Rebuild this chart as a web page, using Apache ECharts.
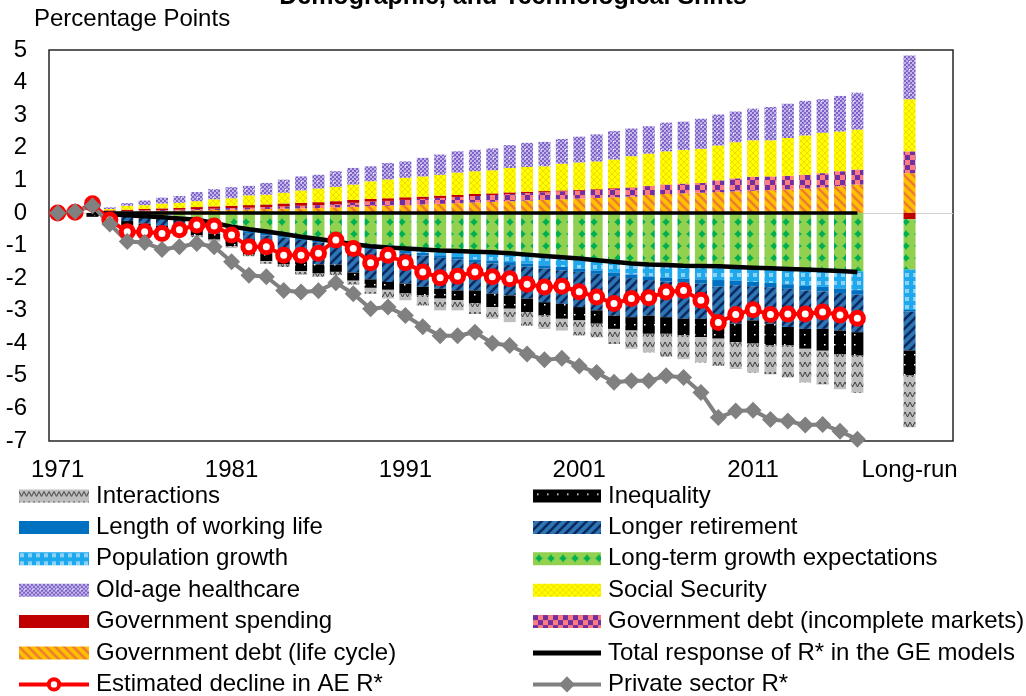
<!DOCTYPE html>
<html>
<head>
<meta charset="utf-8">
<script src="https://cdn.jsdelivr.net/npm/echarts@6.0.0/dist/echarts.min.js"></script>
<style>
  html, body { margin: 0; padding: 0; background: #fff; }
  #chartArea { width: 1026px; height: 696px; }
</style>
</head>
<body>
<div id="chartArea"></div>
<script>
// categories: 1971-2017, two empty slots, Long-run, two empty slots
let years = [];
for (let y = 1971; y <= 2017; y++) years.push(String(y));
const categories = years.concat(['gapA', 'gapB', 'Long-run', 'gapC', 'gapD']);
const shownLabels = ['1971', '1981', '1991', '2001', '2011', 'Long-run'];

// stacked components, 1971..2017 (percentage points)
const govDebtLC = [0, 0, 0,
  .03, .04, .05, .06, .07, .08, .09, .10, .11, .12,
  .13, .14, .15, .17, .19, .21, .22, .24, .26, .28,
  .30, .32, .34, .36, .38, .40, .42, .44, .46, .48,
  .50, .55, .58, .60, .62, .64, .66, .68, .70, .72,
  .75, .78, .82, .87];
const govDebtIM = [0, 0, 0,
  .02, .02, .03, .03, .03, .04, .04, .05, .05, .06,
  .07, .08, .09, .10, .12, .14, .15, .16, .17, .18,
  .19, .20, .21, .22, .23, .23, .24, .24, .25, .26,
  .26, .27, .28, .29, .30, .36, .40, .43, .42, .42,
  .42, .44, .46, .46];
const govSpending = [0, 0, 0,
  .03, .04, .04, .05, .05, .06, .07, .07, .08, .08,
  .09, .09, .09, .09, .09, .08, .08, .08, .07, .07,
  .06, .06, .05, .05, .04, .04, .03, .03, .02, .02,
  .02, .01, .01, .01, 0, 0, 0, 0, 0, 0,
  0, 0, 0, 0];
const socialSecurity = [0, 0, 0,
  .04, .12, .12, .15, .16, .18, .22, .23, .30, .30,
  .33, .38, .42, .44, .47, .54, .58, .60, .62, .64,
  .69, .70, .71, .75, .76, .76, .82, .84, .85, .88,
  .96, .99, 1.02, 1.03, 1.05, 1.07, 1.11, 1.12, 1.11, 1.16,
  1.21, 1.24, 1.22, 1.23];
const oldAgeHealth = [0, 0, 0,
  .05, .08, .14, .18, .21, .28, .31, .34, .29, .36,
  .40, .43, .42, .48, .51, .46, .50, .50, .57, .62,
  .65, .66, .67, .70, .74, .75, .76, .79, .83, .87,
  .85, .84, .88, .87, .92, .95, .94, .97, 1.02, 1.05,
  1.06, 1.03, 1.09, 1.13];
const growthExp = [0, 0, 0,
  -.03, -.05, -.07, -.10, -.13, -.17, -.30, -.45, -.52, -.58,
  -.64, -.70, -.76, -.83, -.90, -.95, -1.00, -1.04, -1.08, -1.12,
  -1.15, -1.18, -1.20, -1.24, -1.28, -1.32, -1.36, -1.40, -1.45, -1.50,
  -1.55, -1.60, -1.62, -1.64, -1.65, -1.66, -1.67, -1.69, -1.70, -1.72,
  -1.74, -1.75, -1.77, -1.79];
const popGrowth = [0, 0, 0,
  -.01, -.02, -.02, -.03, -.03, -.03, -.03, -.03, -.04, -.04,
  -.05, -.05, -.06, -.06, -.07, -.08, -.10, -.12, -.15, -.18,
  -.20, -.25, -.26, -.27, -.28, -.29, -.30, -.31, -.32, -.33,
  -.34, -.35, -.37, -.38, -.39, -.40, -.41, -.43, -.45, -.47,
  -.50, -.52, -.55, -.58];
const workingLife = [0, 0, 0,
  -.02, -.03, -.04, -.05, -.05, -.05, -.06, -.06, -.06, -.07,
  -.07, -.08, -.08, -.08, -.08, -.08, -.08, -.08, -.08, -.08,
  -.08, -.08, -.09, -.09, -.09, -.10, -.10, -.10, -.10, -.11,
  -.11, -.11, -.12, -.12, -.13, -.20, -.14, -.13, -.13, -.14,
  -.14, -.14, -.14, -.14];
const longerRetire = [0, 0, 0,
  -.08, -.15, -.20, -.22, -.24, -.26, -.25, -.28, -.42, -.55,
  -.56, -.68, -.68, -.62, -.78, -.93, -.94, -.93, -.96, -.95,
  -.95, -.87, -.93, -.93, -.98, -1.03, -1.03, -1.08, -1.12, -1.21,
  -1.20, -1.09, -1.09, -1.11, -1.08, -1.25, -1.18, -1.05, -1.12, -1.17,
  -1.18, -1.15, -1.15, -1.15];
const inequality = [0, 0, -.12,
  -.08, -.12, -.15, -.17, -.18, -.18, -.18, -.20, -.22, -.24,
  -.26, -.28, -.28, -.22, -.25, -.26, -.24, -.30, -.26, -.30,
  -.30, -.39, -.41, -.41, -.41, -.41, -.46, -.41, -.41, -.41,
  -.41, -.56, -.51, -.51, -.56, -.35, -.57, -.71, -.67, -.57,
  -.61, -.67, -.72, -.72];
const interactions = [0, 0, 0,
  -.02, -.03, -.04, -.05, -.05, -.06, -.06, -.06, -.07, -.08,
  -.08, -.10, -.10, -.10, -.12, -.18, -.27, -.21, -.31, -.36,
  -.31, -.33, -.36, -.41, -.42, -.41, -.36, -.46, -.42, -.46,
  -.56, -.57, -.70, -.73, -.78, -.83, -.82, -.89, -.88, -.98,
  -1.03, -1.03, -1.08, -1.14];

// long-run bar
const longRun = {
  govDebtLC: 1.22, govDebtIM: .67, govSpending: -.19, socialSecurity: 1.60, oldAgeHealth: 1.34,
  growthExp: -1.55, popGrowth: -1.24, workingLife: -.05, longerRetire: -1.19,
  inequality: -.77, interactions: -1.59
};

// lines, 1971..2017
const totalGE = ['-', '-', 0,
  -.04, -.07, -.10, -.13, -.17, -.21, -.31, -.42, -.50, -.57,
  -.65, -.73, -.80, -.88, -.96, -1.02, -1.06, -1.09, -1.12, -1.15,
  -1.17, -1.19, -1.21, -1.24, -1.28, -1.32, -1.36, -1.40, -1.45, -1.50,
  -1.55, -1.58, -1.60, -1.62, -1.63, -1.64, -1.66, -1.68, -1.70, -1.72,
  -1.74, -1.76, -1.78, -1.81];
const estDecline = [0, .02, .28,
  -.22, -.58, -.58, -.63, -.52, -.37, -.40, -.68, -1.04, -1.04,
  -1.30, -1.30, -1.24, -.83, -1.09, -1.53, -1.30, -1.53, -1.81, -1.99,
  -1.94, -1.81, -1.96, -2.02, -2.19, -2.27, -2.25, -2.42, -2.58, -2.78,
  -2.63, -2.60, -2.43, -2.38, -2.68, -3.36, -3.12, -2.97, -3.12, -3.10,
  -3.10, -3.04, -3.13, -3.23];
const privateRstar = [0, .04, .22,
  -.34, -.88, -.91, -1.12, -1.04, -.94, -1.04, -1.50, -1.91, -1.96,
  -2.38, -2.43, -2.39, -2.14, -2.48, -2.94, -2.89, -3.15, -3.49, -3.77,
  -3.77, -3.66, -4.00, -4.07, -4.33, -4.51, -4.46, -4.70, -4.90, -5.20,
  -5.15, -5.15, -5.00, -5.05, -5.51, -6.28, -6.08, -6.06, -6.34, -6.39,
  -6.51, -6.49, -6.70, -6.95];
const zeroLine = ['-', '-', 0,
  0, 0, 0, 0, 0, 0, 0, 0, 0, 0,
  0, 0, 0, 0, 0, 0, 0, 0, 0, 0,
  0, 0, 0, 0, 0, 0, 0, 0, 0, 0,
  0, 0, 0, 0, 0, 0, 0, 0, 0, 0,
  0, 0, 0, 0];

function withLongRun(arr, lr) {
  return arr.concat([null, null, lr, null, null]);
}
function lineData(arr) {
  return arr.concat([null, null, null, null, null]);
}

// fill patterns
function makePattern(size, bg, draw) {
  let c = document.createElement('canvas');
  c.width = size; c.height = size;
  let ctx = c.getContext('2d');
  ctx.fillStyle = bg;
  ctx.fillRect(0, 0, size, size);
  if (draw) draw(ctx, size);
  return { image: c, repeat: 'repeat' };
}
function slash(ctx, s, color, w) {
  ctx.strokeStyle = color; ctx.lineWidth = w;
  ctx.beginPath();
  ctx.moveTo(-1, s + 1); ctx.lineTo(s + 1, -1);
  ctx.moveTo(-s / 2 - 1, s / 2 + 1); ctx.lineTo(s / 2 + 1, -s / 2 - 1);
  ctx.moveTo(s / 2 - 1, s * 1.5 + 1); ctx.lineTo(s * 1.5 + 1, s / 2 - 1);
  ctx.stroke();
}
function backslash(ctx, s, color, w) {
  ctx.strokeStyle = color; ctx.lineWidth = w;
  ctx.beginPath();
  ctx.moveTo(-1, -1); ctx.lineTo(s + 1, s + 1);
  ctx.moveTo(-s / 2 - 1, s / 2 - 1); ctx.lineTo(s / 2 + 1, s * 1.5 + 1);
  ctx.moveTo(s / 2 - 1, -s / 2 - 1); ctx.lineTo(s * 1.5 + 1, s / 2 + 1);
  ctx.stroke();
}

const pInteractions = makePattern(10, '#BFBFBF', function (ctx) {
  ctx.strokeStyle = '#3A3A3A'; ctx.lineWidth = 1;
  ctx.beginPath();
  ctx.moveTo(0, 2); ctx.lineTo(2.5, 7); ctx.lineTo(5, 2); ctx.lineTo(7.5, 7); ctx.lineTo(10, 2);
  ctx.stroke();
});
const pInequality = makePattern(10, '#000000', function (ctx) {
  ctx.fillStyle = '#FFFFFF'; ctx.fillRect(4, 4, 1.5, 1.5);
});
const pRetire = makePattern(9, '#2E75B6', function (ctx, s) { slash(ctx, s, '#0B2A5E', 2.6); });
const pPop = makePattern(8, '#1FA9EC', function (ctx) {
  ctx.fillStyle = '#8ED2F7'; ctx.fillRect(1, 1, 4, 4);
});
const pGrowth = makePattern(12, '#92D050', function (ctx) {
  ctx.fillStyle = '#00B050';
  ctx.beginPath();
  ctx.moveTo(6, 1); ctx.quadraticCurveTo(6, 6, 11, 6); ctx.quadraticCurveTo(6, 6, 6, 11);
  ctx.quadraticCurveTo(6, 6, 1, 6); ctx.quadraticCurveTo(6, 6, 6, 1);
  ctx.closePath(); ctx.fill();
  ctx.beginPath();
  ctx.moveTo(6, 2.5); ctx.lineTo(9.5, 6); ctx.lineTo(6, 9.5); ctx.lineTo(2.5, 6); ctx.closePath();
  ctx.fill();
});
const pOldAge = makePattern(8, '#C3B5EC', function (ctx) {
  ctx.fillStyle = '#7E63C6';
  ctx.fillRect(0, 0, 2, 2); ctx.fillRect(2, 2, 2, 2); ctx.fillRect(4, 0, 2, 2); ctx.fillRect(6, 2, 2, 2);
  ctx.fillRect(0, 4, 2, 2); ctx.fillRect(2, 6, 2, 2); ctx.fillRect(4, 4, 2, 2); ctx.fillRect(6, 6, 2, 2);
  ctx.fillStyle = '#FFFFFF'; ctx.fillRect(5, 5, 1, 1);
});
const pSocial = makePattern(6, '#FFFF00', function (ctx, s) {
  ctx.strokeStyle = '#F2DC00'; ctx.lineWidth = 1;
  ctx.beginPath();
  ctx.moveTo(0, 0); ctx.lineTo(s, s); ctx.moveTo(0, s); ctx.lineTo(s, 0);
  ctx.stroke();
});
const pDebtIM = makePattern(10, '#FF7C80', function (ctx) {
  ctx.fillStyle = '#7030A0';
  ctx.fillRect(0, 0, 5, 5); ctx.fillRect(5, 5, 5, 5);
});
const pDebtLC = makePattern(9, '#FFC000', function (ctx, s) { backslash(ctx, s, '#ED7D31', 2.6); });

const fontFam = '"Liberation Sans", Arial, sans-serif';
const fs = 24;

function barSeries(name, data, color) {
  return {
    name: name,
    type: 'bar',
    stack: 'total',
    barWidth: 12,
    data: data,
    itemStyle: { color: color },
    emphasis: { disabled: true }
  };
}

function legendBox(left, width, items) {
  return {
    orient: 'vertical', left: left, top: 484, height: 240,
    padding: 0, itemWidth: width, itemHeight: 13, itemGap: 7.4,
    selectedMode: false,
    lineStyle: { width: 4 },
    textStyle: { fontSize: fs, color: '#000', fontFamily: fontFam, lineHeight: 24, padding: [0, 0, 0, 2] },
    data: items
  };
}

const chartDom = document.getElementById('chartArea');
let myChart = echarts.init(chartDom, null, { renderer: 'canvas' });
let option;

option = {
  animation: false,
  backgroundColor: '#FFFFFF',
  graphic: [
    {
      type: 'text', left: 'center', top: -15,
      style: { text: 'Demographic, and Technological Shifts', font: 'bold 25px ' + fontFam, fill: '#000' }
    },
    {
      type: 'text', left: 34, top: 7,
      style: { text: 'Percentage Points', font: fs + 'px ' + fontFam, fill: '#000' }
    }
  ],
  grid: {
    left: 49, right: 73, top: 50, bottom: 255,
    show: true, borderColor: '#262626', borderWidth: 1.5, backgroundColor: 'transparent'
  },
  legend: [
    legendBox(17, 70, [
      { name: 'Interactions', icon: 'rect' },
      { name: 'Length of working life', icon: 'rect' },
      { name: 'Population growth', icon: 'rect' },
      { name: 'Old-age healthcare', icon: 'rect' },
      { name: 'Government spending', icon: 'rect' },
      { name: 'Government debt (life cycle)', icon: 'rect' },
      { name: 'Estimated decline in AE R*', itemStyle: { borderWidth: 4 } }
    ]),
    legendBox(531, 68, [
      { name: 'Inequality', icon: 'rect' },
      { name: 'Longer retirement', icon: 'rect' },
      { name: 'Long-term growth expectations', icon: 'rect' },
      { name: 'Social Security', icon: 'rect' },
      { name: 'Government debt (incomplete markets)', icon: 'rect' },
      { name: 'Total response of R* in the GE models', icon: 'path://M0,0L68,0L68,5L0,5Z' },
      { name: 'Private sector R*', itemStyle: { borderColor: '#808080', borderWidth: 4 } }
    ])
  ],
  xAxis: {
    type: 'category',
    data: categories,
    boundaryGap: true,
    axisLine: { show: false },
    axisTick: { show: false },
    axisLabel: {
      interval: function (idx, val) { return shownLabels.indexOf(val) >= 0; },
      fontSize: fs, color: '#000', fontFamily: fontFam, margin: 17
    }
  },
  yAxis: {
    type: 'value',
    min: -7, max: 5, interval: 1,
    axisLine: { show: false },
    axisTick: { show: false },
    splitLine: { show: false },
    axisLabel: { fontSize: fs, color: '#000', fontFamily: fontFam, margin: 22 }
  },
  series: [
    barSeries('Government debt (life cycle)', withLongRun(govDebtLC, longRun.govDebtLC), pDebtLC),
    barSeries('Government debt (incomplete markets)', withLongRun(govDebtIM, longRun.govDebtIM), pDebtIM),
    barSeries('Government spending', withLongRun(govSpending, longRun.govSpending), '#C00000'),
    barSeries('Long-term growth expectations', withLongRun(growthExp, longRun.growthExp), pGrowth),
    barSeries('Population growth', withLongRun(popGrowth, longRun.popGrowth), pPop),
    barSeries('Length of working life', withLongRun(workingLife, longRun.workingLife), '#0070C0'),
    barSeries('Longer retirement', withLongRun(longerRetire, longRun.longerRetire), pRetire),
    barSeries('Inequality', withLongRun(inequality, longRun.inequality), pInequality),
    barSeries('Interactions', withLongRun(interactions, longRun.interactions), pInteractions),
    barSeries('Social Security', withLongRun(socialSecurity, longRun.socialSecurity), pSocial),
    barSeries('Old-age healthcare', withLongRun(oldAgeHealth, longRun.oldAgeHealth), pOldAge),
    {
      name: 'zero',
      type: 'line',
      data: lineData(zeroLine),
      symbol: 'none',
      lineStyle: { color: '#000', width: 3.5 },
      itemStyle: { color: '#000' },
      silent: true,
      markLine: {
        silent: true, z: 1, symbol: ['none', 'none'],
        label: { show: false },
        lineStyle: { color: '#D0D0D0', width: 1, type: 'solid' },
        data: [{ yAxis: 0 }]
      }
    },
    {
      name: 'Total response of R* in the GE models',
      type: 'line',
      data: lineData(totalGE),
      symbol: 'none',
      lineStyle: { color: '#000', width: 4.5 },
      itemStyle: { color: '#000' }
    },
    {
      name: 'Estimated decline in AE R*',
      type: 'line',
      data: lineData(estDecline),
      symbol: 'circle',
      symbolSize: 12,
      showAllSymbol: true,
      lineStyle: { color: '#FF0000', width: 4 },
      itemStyle: { color: '#FFFFFF', borderColor: '#FF0000', borderWidth: 5 }
    },
    {
      name: 'Private sector R*',
      type: 'line',
      data: lineData(privateRstar),
      symbol: 'diamond',
      symbolSize: 17,
      showAllSymbol: true,
      lineStyle: { color: '#808080', width: 4 },
      itemStyle: { color: '#808080' }
    }
  ]
};

option && myChart.setOption(option);
</script>
</body>
</html>
